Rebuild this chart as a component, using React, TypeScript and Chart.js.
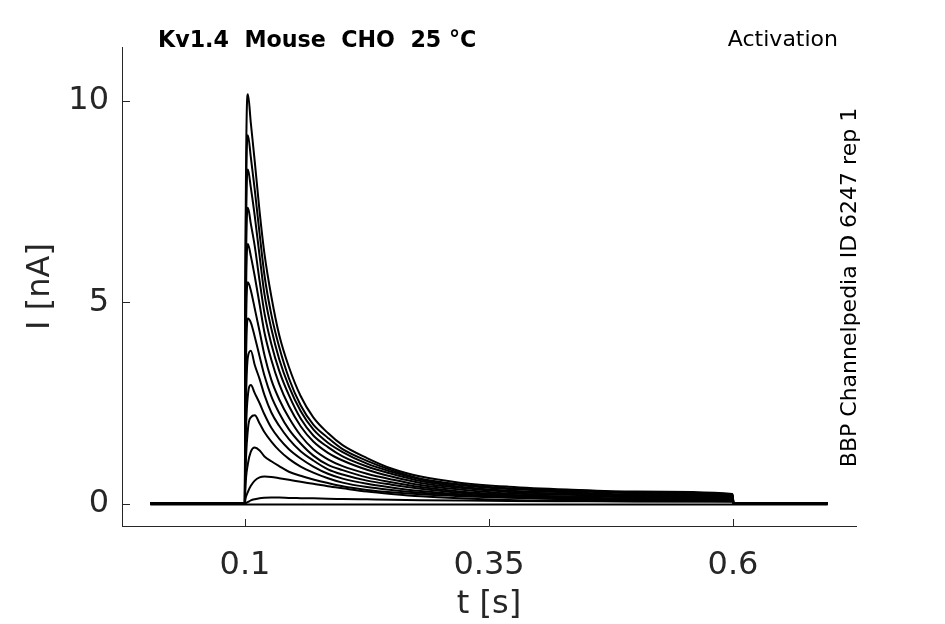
import { useEffect, useRef } from "react";
import { Chart, registerables } from "chart.js";

Chart.register(...registerables);

// time points (s)
const TIMES = [
  0.003, 0.0999, 0.1003, 0.103, 0.106, 0.11, 0.115, 0.12, 0.127, 0.135, 0.145, 0.157, 0.17,
  0.185, 0.2, 0.225, 0.25, 0.28, 0.32, 0.37, 0.43, 0.5, 0.5995, 0.6005, 0.697,
];

// current traces (nA), one per voltage step
const TRACE_01 = [0.02, 0.02, 5.0, 10.17, 9.45, 8.5, 7.25, 6.2, 5.15, 4.2, 3.4, 2.68, 2.15, 1.76, 1.46, 1.14, 0.88, 0.68, 0.53, 0.43, 0.36, 0.31, 0.25, 0.02, 0.02];
const TRACE_02 = [0.02, 0.02, 4.5, 9.15, 8.6, 7.8, 6.7, 5.67, 4.7, 3.9, 3.12, 2.45, 1.97, 1.64, 1.36, 1.07, 0.84, 0.63, 0.49, 0.39, 0.34, 0.29, 0.23, 0.02, 0.02];
const TRACE_03 = [0.02, 0.02, 4.0, 8.3, 7.85, 7.15, 6.15, 5.2, 4.35, 3.6, 2.92, 2.31, 1.85, 1.52, 1.29, 1.0, 0.8, 0.61, 0.47, 0.37, 0.32, 0.27, 0.22, 0.02, 0.02];
const TRACE_04 = [0.02, 0.02, 3.5, 7.35, 6.95, 6.4, 5.53, 4.73, 3.97, 3.31, 2.7, 2.12, 1.7, 1.41, 1.18, 0.93, 0.75, 0.57, 0.43, 0.33, 0.29, 0.24, 0.2, 0.02, 0.02];
const TRACE_05 = [0.02, 0.02, 3.0, 6.45, 6.15, 5.65, 4.95, 4.25, 3.58, 2.98, 2.43, 1.93, 1.55, 1.27, 1.08, 0.85, 0.68, 0.52, 0.4, 0.3, 0.26, 0.22, 0.18, 0.02, 0.02];
const TRACE_06 = [0.02, 0.02, 2.4, 5.5, 5.3, 4.85, 4.28, 3.69, 3.08, 2.6, 2.14, 1.7, 1.36, 1.11, 0.94, 0.75, 0.61, 0.47, 0.36, 0.26, 0.23, 0.19, 0.16, 0.02, 0.02];
const TRACE_07 = [0.02, 0.02, 1.9, 4.6, 4.5, 4.15, 3.66, 3.18, 2.67, 2.26, 1.85, 1.5, 1.2, 0.97, 0.84, 0.66, 0.54, 0.42, 0.31, 0.23, 0.19, 0.17, 0.14, 0.02, 0.02];
const TRACE_08 = [0.02, 0.02, 1.4, 3.65, 3.8, 3.45, 3.1, 2.7, 2.27, 1.94, 1.61, 1.31, 1.08, 0.86, 0.73, 0.58, 0.48, 0.38, 0.28, 0.21, 0.17, 0.14, 0.12, 0.02, 0.02];
const TRACE_09 = [0.02, 0.02, 1.0, 2.7, 2.95, 2.75, 2.5, 2.22, 1.89, 1.62, 1.36, 1.13, 0.93, 0.75, 0.63, 0.5, 0.41, 0.32, 0.24, 0.18, 0.145, 0.12, 0.1, 0.02, 0.02];
const TRACE_10 = [0.02, 0.02, 0.6, 1.85, 2.15, 2.2, 2.0, 1.78, 1.55, 1.33, 1.12, 0.93, 0.78, 0.64, 0.53, 0.42, 0.35, 0.28, 0.22, 0.165, 0.125, 0.1, 0.086, 0.02, 0.02];
const TRACE_11 = [0.02, 0.02, 0.35, 1.0, 1.3, 1.4, 1.33, 1.18, 1.06, 0.94, 0.8, 0.7, 0.61, 0.52, 0.44, 0.35, 0.29, 0.24, 0.195, 0.157, 0.118, 0.088, 0.069, 0.02, 0.02];
const TRACE_12 = [0.02, 0.02, 0.1, 0.3, 0.45, 0.58, 0.66, 0.68, 0.67, 0.64, 0.6, 0.55, 0.5, 0.44, 0.39, 0.31, 0.25, 0.19, 0.14, 0.1, 0.08, 0.07, 0.06, 0.02, 0.02];
const TRACE_13 = [0.02, 0.02, 0.02, 0.05, 0.09, 0.12, 0.145, 0.155, 0.16, 0.16, 0.15, 0.145, 0.14, 0.13, 0.125, 0.115, 0.105, 0.095, 0.085, 0.075, 0.07, 0.065, 0.06, 0.02, 0.02];
const TRACE_14 = [-0.01, -0.01, -0.01, -0.01, -0.01, -0.01, -0.01, -0.01, -0.01, -0.01, -0.01, -0.01, -0.01, -0.01, -0.01, -0.01, -0.01, -0.01, -0.01, -0.01, -0.01, -0.01, -0.01, -0.01, -0.01];

const TRACES = [
  TRACE_01, TRACE_02, TRACE_03, TRACE_04, TRACE_05, TRACE_06, TRACE_07,
  TRACE_08, TRACE_09, TRACE_10, TRACE_11, TRACE_12, TRACE_13, TRACE_14,
];

const X_TICKS = [0.1, 0.35, 0.6];
const Y_TICKS = [0, 5, 10];
const X_LABEL = "t [s]";
const Y_LABEL = "I [nA]";
const TITLE = "Kv1.4  Mouse  CHO  25 °C";
const PROTOCOL = "Activation";
const SOURCE = "BBP Channelpedia ID 6247 rep 1";

const AXIS = "#262626";
const FONT = '"DejaVu Sans", sans-serif';

const decorPlugin = {
  id: "decor",
  afterDraw(chart: any) {
    const { ctx, chartArea } = chart;
    const x = chart.scales.x;
    const y = chart.scales.y;
    ctx.save();
    ctx.strokeStyle = AXIS;
    ctx.lineWidth = 1;
    ctx.beginPath();
    X_TICKS.forEach((v) => {
      const px = Math.round(x.getPixelForValue(v)) + 0.5;
      ctx.moveTo(px, chartArea.bottom);
      ctx.lineTo(px, chartArea.bottom - 7);
    });
    Y_TICKS.forEach((v) => {
      const py = Math.round(y.getPixelForValue(v)) + 0.5;
      ctx.moveTo(chartArea.left, py);
      ctx.lineTo(chartArea.left + 8, py);
    });
    ctx.stroke();

    ctx.fillStyle = "#000";
    ctx.textBaseline = "alphabetic";
    ctx.textAlign = "left";
    ctx.font = `bold 22.2px ${FONT}`;
    ctx.fillText(TITLE, chartArea.left + 36, chartArea.top);
    ctx.textAlign = "right";
    ctx.font = `22px ${FONT}`;
    ctx.fillText(PROTOCOL, chartArea.right - 18, chartArea.top - 1);

    ctx.translate(chartArea.right, (105 + 468) / 2);
    ctx.rotate(-Math.PI / 2);
    ctx.textAlign = "center";
    ctx.textBaseline = "middle";
    ctx.font = `22px ${FONT}`;
    ctx.fillText(SOURCE, -1, -6);
    ctx.restore();
  },
};

export default function App() {
  const ref = useRef<HTMLCanvasElement | null>(null);

  useEffect(() => {
    if (!ref.current) return;
    const datasets = TRACES.map((trace, i) => ({
      label: `trace ${i + 1}`,
      data: TIMES.map((t, j) => ({ x: t, y: trace[j] })),
      borderColor: "#000",
      borderWidth: 2,
      pointRadius: 0,
      fill: false,
      cubicInterpolationMode: "monotone" as const,
    }));

    const chart = new Chart(ref.current, {
      type: "line",
      data: { datasets },
      options: {
        animation: false,
        responsive: false,
        maintainAspectRatio: false,
        layout: { padding: { left: 0, top: 47, right: 89, bottom: 0 } },
        plugins: {
          legend: { display: false },
          tooltip: { enabled: false },
          title: { display: false },
        },
        scales: {
          x: {
            type: "linear",
            min: -0.026,
            max: 0.726,
            afterFit: (s: any) => {
              s.height = 98;
            },
            afterBuildTicks: (s: any) => {
              s.ticks = X_TICKS.map((v) => ({ value: v }));
            },
            ticks: {
              color: AXIS,
              font: { family: FONT, size: 32 },
              padding: 20,
              maxRotation: 0,
              callback: (v: any) => String(v),
            },
            grid: { display: true, drawOnChartArea: false, drawTicks: false },
            border: { display: true, color: AXIS, width: 1 },
            title: {
              display: true,
              text: X_LABEL,
              color: AXIS,
              font: { family: FONT, size: 32 },
              padding: { top: 0, bottom: 0 },
            },
          },
          y: {
            type: "linear",
            min: -0.546,
            max: 11.34,
            afterFit: (s: any) => {
              s.width = 122;
            },
            afterBuildTicks: (s: any) => {
              s.ticks = Y_TICKS.map((v) => ({ value: v }));
            },
            ticks: {
              color: AXIS,
              font: { family: FONT, size: 32 },
              padding: 13,
              callback: (v: any) => String(v),
            },
            grid: { display: true, drawOnChartArea: false, drawTicks: false },
            border: { display: true, color: AXIS, width: 1 },
            title: {
              display: true,
              text: Y_LABEL,
              color: AXIS,
              font: { family: FONT, size: 32 },
              padding: { top: 21, bottom: 0 },
            },
          },
        },
      },
      plugins: [decorPlugin],
    });
    return () => chart.destroy();
  }, []);

  return (
    <div style={{ position: "fixed", left: 0, top: 0, width: 945, height: 624, background: "#fff" }}>
      <canvas ref={ref} width={945} height={624} />
    </div>
  );
}
